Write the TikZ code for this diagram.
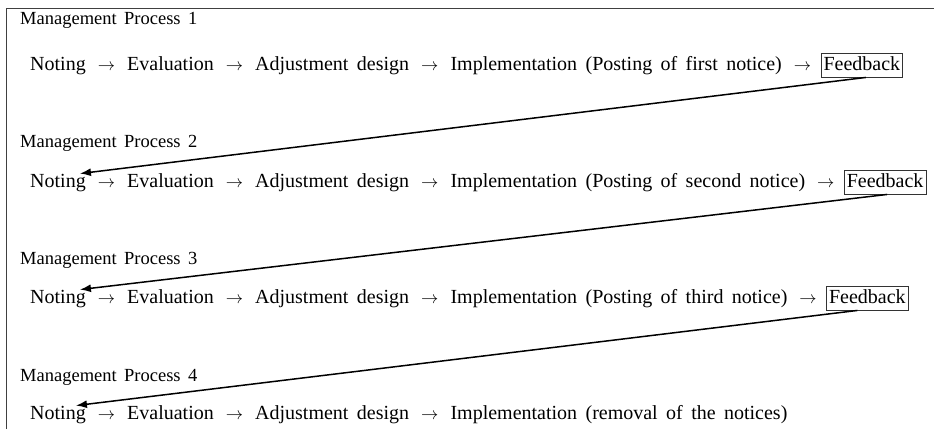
\documentclass[tikz,border=0pt]{standalone}
\usepackage{fontspec}
\setmainfont{Liberation Serif}
\usetikzlibrary{arrows.meta}
\newcommand\gapw{41pt}
\newcommand\rowfont{\fontsize{20}{24}\selectfont\spaceskip 0.42em\relax}
\newcommand\lblfont{\fontsize{18.5}{22}\selectfont\spaceskip 0.4em\relax}
\begin{document}
\begin{tikzpicture}[x=1pt,y=-1pt,
  txt/.style={anchor=base west, inner sep=0pt, font=\rowfont},
  lbl/.style={anchor=base west, inner sep=0pt, font=\lblfont},
  fb/.style={txt, draw=black!80, line width=0.9pt, inner xsep=2.5pt, inner ysep=3pt, text height=14pt, text depth=4pt},
  glyph/.style={anchor=base, inner sep=0pt, font=\fontsize{17}{18}\selectfont},
  fbarrow/.style={line width=1.5pt, -{Latex[length=11pt,width=8pt]}},
  frame/.style={line width=1pt, draw=black!75}]
\useasboundingbox (0,0) rectangle (934,429);
\draw[frame] (6,429) -- (6,8) -- (934,8);

\foreach \r/\ml/\bl/\what in {1/24/70/first, 2/147/187/second, 3/264/303/third}{
  \node[lbl] (m\r) at (20,\ml) {Management Process \r};
  \node[txt] (n\r) at (30,\bl) {Noting};
  \node[txt] (e\r) at ([xshift=\gapw]n\r.base east) {Evaluation};
  \node[txt] (d\r) at ([xshift=\gapw]e\r.base east) {Adjustment design};
  \node[txt] (i\r) at ([xshift=\gapw]d\r.base east) {Implementation (Posting of \what\ notice)};
  \node[fb] (f\r) at ([xshift=\gapw-2.5pt]i\r.base east) {Feedback};
  \path (n\r.base east) -- (e\r.base west) node[glyph, midway] (aa\r) {$\rightarrow$};
  \path (e\r.base east) -- (d\r.base west) node[glyph, midway] (ab\r) {$\rightarrow$};
  \path (d\r.base east) -- (i\r.base west) node[glyph, midway] (ac\r) {$\rightarrow$};
  \path (i\r.base east) -- ([xshift=2.5pt]f\r.base west) node[glyph, midway] (ad\r) {$\rightarrow$};
}

\node[lbl] (m4) at (20,381) {Management Process 4};
\node[txt] (n4) at (30,419) {Noting};
\node[txt] (e4) at ([xshift=\gapw]n4.base east) {Evaluation};
\node[txt] (d4) at ([xshift=\gapw]e4.base east) {Adjustment design};
\node[txt] (i4) at ([xshift=\gapw]d4.base east) {Implementation (removal of the notices)};
\path (n4.base east) -- (e4.base west) node[glyph, midway] (aa4) {$\rightarrow$};
\path (e4.base east) -- (d4.base west) node[glyph, midway] (ab4) {$\rightarrow$};
\path (d4.base east) -- (i4.base west) node[glyph, midway] (ac4) {$\rightarrow$};

\draw[fbarrow] ([xshift=4pt]f1.south) -- ([xshift=-6pt]n2.north east);
\draw[fbarrow] ([xshift=2pt]f2.south) -- ([xshift=-6pt]n3.north east);
\draw[fbarrow] ([xshift=-10pt]f3.south) -- ([xshift=-10pt]n4.north east);
\end{tikzpicture}
\end{document}
